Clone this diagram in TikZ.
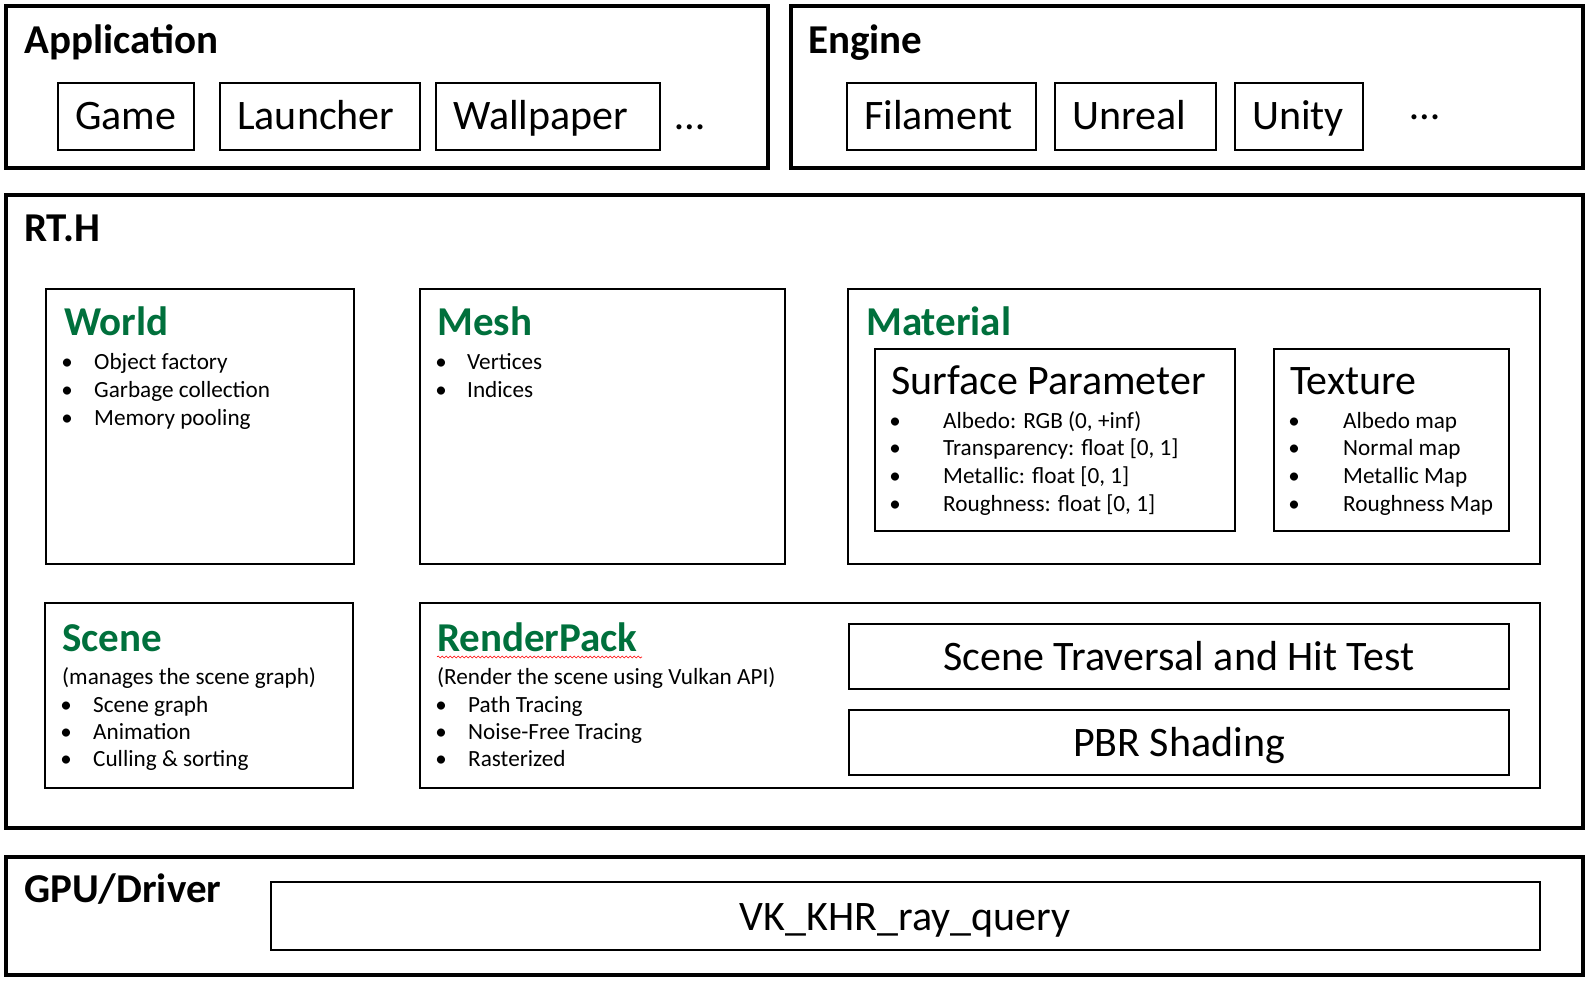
\documentclass[tikz,border=0pt]{standalone}
\usepackage{fontspec}
\setmainfont{Carlito}
\usetikzlibrary{decorations.pathmorphing}
\definecolor{modgreen}{RGB}{0,112,60}

\begin{document}
\begin{tikzpicture}[x=1pt,y=-1pt,
  layer/.style={draw=black, line width=4.5pt},
  module/.style={draw=black, line width=2pt},
  part/.style={draw=black, line width=1.2pt},
  layerhead/.style={anchor=base west, inner sep=0pt, font=\fontsize{41}{48}\selectfont\bfseries},
  modhead/.style={layerhead, text=modgreen},
  bigtext/.style={anchor=base west, inner sep=0pt, font=\fontsize{42}{50}\selectfont},
  entry/.style={anchor=base west, inner sep=0pt, font=\fontsize{23.2}{28}\selectfont},
  bul/.style={anchor=base, inner sep=0pt, font=\fontsize{23}{28}\selectfont}]
\useasboundingbox (0,0) rectangle (1590,980);
%
% Application layer
\draw[layer] (6,6) rectangle (768,168);
\node[layerhead] (app) at (24,53) {Application};
\foreach \l/\r/\t [count=\k] in {58/194/Game, 220/420/Launcher, 436/660/Wallpaper}{
  \draw[part] (\l,83) rectangle (\r,150);
  \node[bigtext] (app-\k) at (\l+17,129) {\t};
}
\node[bigtext] (app-more) at (675,129) {\textellipsis};
%
% Engine layer
\draw[layer] (791,6) rectangle (1583,168);
\node[layerhead] (eng) at (808,53) {Engine};
\foreach \l/\r/\t [count=\k] in {847/1036/Filament, 1055/1216/Unreal, 1235/1363/Unity}{
  \draw[part] (\l,83) rectangle (\r,150);
  \node[bigtext] (eng-\k) at (\l+17,129) {\t};
}
\node[bigtext] (eng-more) at (1410,119) {\textellipsis};
%
% RT.H layer
\draw[layer] (6,195) rectangle (1583,828);
\node[layerhead] (rth) at (24,241) {RT.H};
%
%% World
\draw[module] (46,289) rectangle (354,564);
\node[modhead] (world) at (64,335) {World};
\foreach \t [count=\k] in {Object factory, Garbage collection, Memory pooling}{
  \node[bul] (world-b\k) at (67,341+28*\k) {\textbullet};
  \node[entry] (world-\k) at (94,341+28*\k) {\t};
}
%
%% Mesh
\draw[module] (420,289) rectangle (785,564);
\node[modhead] (mesh) at (437,335) {Mesh};
\foreach \t [count=\k] in {Vertices, Indices}{
  \node[bul] (mesh-b\k) at (441,341+28*\k) {\textbullet};
  \node[entry] (mesh-\k) at (467,341+28*\k) {\t};
}
%
%% Material
\draw[module] (848,289) rectangle (1540,564);
\node[modhead] (mat) at (866,335) {Material};
\draw[part] (875,349) rectangle (1235,531);
\node[bigtext] (surf) at (891,394) {Surface Parameter};
\foreach \t [count=\k] in {{Albedo: RGB (0, +inf)}, {Transparency: float [0, 1]},
    {Metallic: float [0, 1]}, {Roughness: float [0, 1]}}{
  \node[bul] (surf-b\k) at (895,400.3+27.7*\k) {\textbullet};
  \node[entry] (surf-\k) at (943,400.3+27.7*\k) {\t};
}
\draw[part] (1274,349) rectangle (1509,531);
\node[bigtext] (tex) at (1290,394) {Texture};
\foreach \t [count=\k] in {Albedo map, Normal map, Metallic Map, Roughness Map}{
  \node[bul] (tex-b\k) at (1294,400.3+27.7*\k) {\textbullet};
  \node[entry] (tex-\k) at (1343,400.3+27.7*\k) {\t};
}
%
%% Scene
\draw[module] (45,603) rectangle (353,788);
\node[modhead] (scene) at (62,651) {Scene};
\node[entry] (scene-note) at (62,684) {(manages the scene graph)};
\foreach \t [count=\k] in {Scene graph, Animation, Culling \& sorting}{
  \node[bul] (scene-b\k) at (66,685+27*\k) {\textbullet};
  \node[entry] (scene-\k) at (93,685+27*\k) {\t};
}
%
%% RenderPack
\draw[module] (420,603) rectangle (1540,788);
\node[modhead] (rp) at (437,651) {RenderPack};
\draw[red, line width=0.6pt, decorate, decoration={snake, amplitude=1pt, segment length=4pt}]
  (rp.base west) ++(0,6) -- ++(205,0);
\node[entry] (rp-note) at (437,684) {(Render the scene using Vulkan API)};
\foreach \t [count=\k] in {Path Tracing, Noise-Free Tracing, Rasterized}{
  \node[bul] (rp-b\k) at (441,685+27*\k) {\textbullet};
  \node[entry] (rp-\k) at (468,685+27*\k) {\t};
}
\draw[part] (849,624) rectangle (1509,689);
\node[bigtext, anchor=base] (trav) at (1179,670) {Scene Traversal and Hit Test};
\draw[part] (849,710) rectangle (1509,775);
\node[bigtext, anchor=base] (pbr) at (1179,756) {PBR Shading};
%
% GPU/Driver layer
\draw[layer] (6,857) rectangle (1583,975);
\node[layerhead] (gpu) at (24,902) {GPU/Driver};
\draw[part] (271,882) rectangle (1540,950);
\node[bigtext, anchor=base] (vk) at (905,930) {VK\_KHR\_ray\_query};
\end{tikzpicture}
\end{document}
